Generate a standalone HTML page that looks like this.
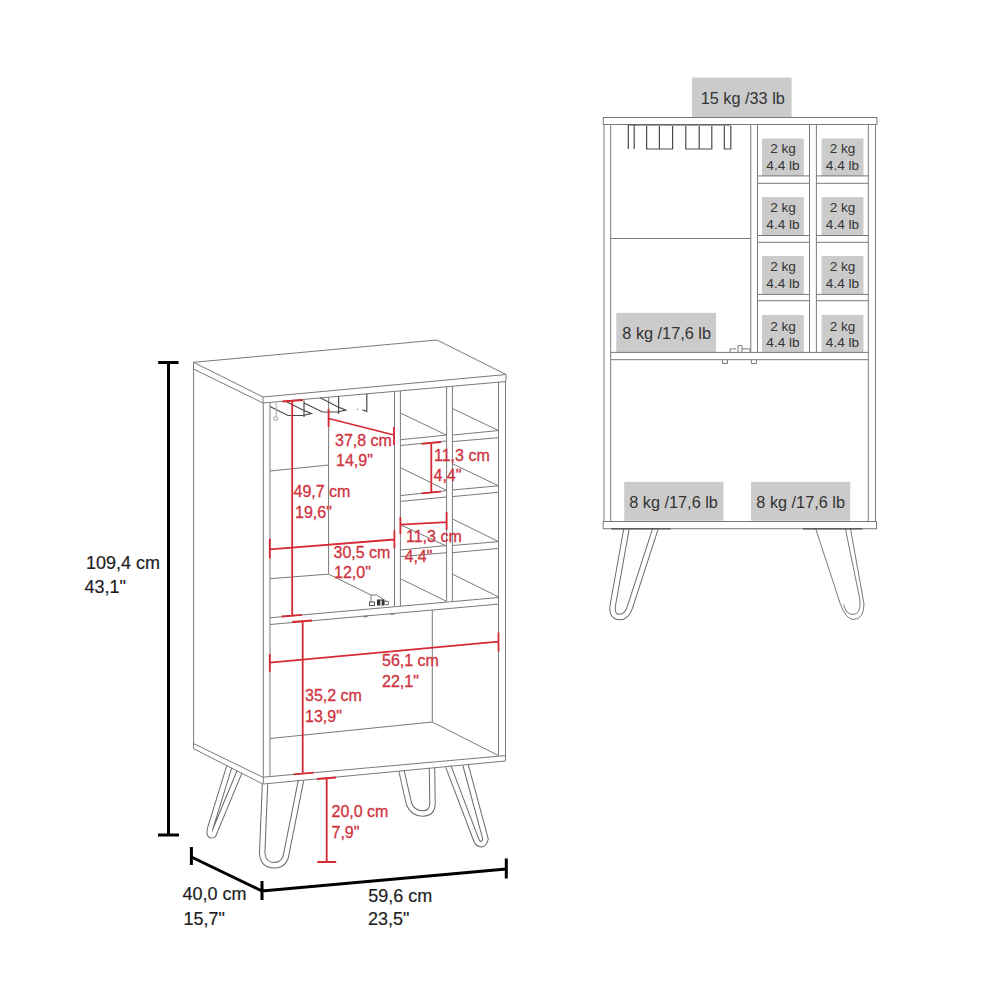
<!DOCTYPE html>
<html><head><meta charset="utf-8"><style>
html,body{margin:0;padding:0;background:#fff;width:1000px;height:1000px;overflow:hidden}
svg{display:block}
text{font-family:"Liberation Sans",sans-serif}
.g{stroke:#7a7a7a;stroke-width:1;fill:none}
.gd{stroke:#4a4a4a;stroke-width:1.2;fill:none}
.r{stroke:#d62a35;stroke-width:1.8;fill:none}
.b{stroke:#000;stroke-width:3;fill:none}
.rt{fill:#d0323e;font-size:16px;stroke:#d0323e;stroke-width:0.3}
.bt{fill:#1e1e1e;font-size:18px;stroke:#1e1e1e;stroke-width:0.2}
.lt{fill:#333;font-size:16.3px}
.st{fill:#333;font-size:13.6px}
.box{fill:#cbcbcb}
.tube{stroke:#6a6a6a;stroke-width:6.4;fill:none;stroke-linecap:butt}
.tubew{stroke:#fff;stroke-width:4.4;fill:none;stroke-linecap:butt}
</style></head><body>
<svg width="1000" height="1000" viewBox="0 0 1000 1000">
<!-- legs left -->
<g>
 <path class="tube" d="M265 784 L262.2 853 Q263 865.2 274.2 865.2 Q285 865.2 286.5 853 L301 780.4"/>
 <path class="tubew" d="M265 784 L262.2 853 Q263 865.2 274.2 865.2 Q285 865.2 286.5 853 L301 780.4"/>
 <path class="tube" d="M229.2 766.9 L210 829 Q208.5 837.5 213.5 834.5 L239.4 772.1"/>
 <path class="tubew" d="M229.2 766.9 L210 829 Q208.5 837.5 213.5 834.5 L239.4 772.1"/>
 <path class="tube" d="M401.5 770.9 L409 804 Q413 813.5 422.5 813.5 Q432 813.5 432.5 804 L432 768"/>
 <path class="tubew" d="M401.5 770.9 L409 804 Q413 813.5 422.5 813.5 Q432 813.5 432.5 804 L432 768"/>
 <path class="tube" d="M448.3 766.4 L475.5 838 C477.5 845 483.5 847 485.5 839 L465.5 764.8"/>
 <path class="tubew" d="M448.3 766.4 L475.5 838 C477.5 845 483.5 847 485.5 839 L465.5 764.8"/>
</g>
<!-- ============ LEFT CABINET ============ -->
<g class="g">
 <!-- top -->
 <path d="M193.5 362.3 L437 340 L506 374.5 L263 397 Z"/>
 <path d="M193.5 362.3 V369 L263 403 L506 381.5 V374.5 M263 397 V403"/>
 <!-- sides -->
 <path d="M193.6 369 V748.7 L262.8 784 M193.6 743.6 L262.8 777.2"/>
 <path d="M263.3 403 V784 L505.5 761 V381.5"/>
 <path d="M270 403 V776.6 M498.5 382 V755.6 M263 777.2 L505.5 755.6"/>
 <!-- dividers -->
 <path d="M394.5 391.4 V606 M400.4 391 V606"/>
 <path d="M446.6 386.7 V601 M452.4 386.2 V601"/>
 <!-- glass section -->
 <path d="M328.6 397.2 V573.8"/>
 <path d="M270 471 L328.6 465"/>
 <path d="M270 578.7 L328.6 574.1 L371 595 H376.5 L386 601 M371 595 V602"/>
 <!-- middle shelf front -->
 <path d="M270 617.8 L498.5 597.5 M270 624.5 L498.5 604.1"/>
 <!-- wine shelves -->
 <path d="M400.4 413 L446.6 435.1 M452.4 408.5 L498.5 430.5"/>
 <path d="M400.4 439.7 L446.6 435.1 M452.4 435.1 L498.5 430.5 M400.4 445.5 L446.6 441 M452.4 441.6 L498.5 437.7"/>
 <path d="M400.4 467.6 L446.6 490.4 M452.4 463.7 L498.5 485.8"/>
 <path d="M400.4 495.6 L446.6 490.6 M452.4 490 L498.5 485.8 M400.4 501.4 L446.6 497 M452.4 496.6 L498.5 492.3"/>
 <path d="M400.4 524.7 L446.6 546.2 M452.4 518.9 L498.5 541.6"/>
 <path d="M400.4 550 L446.6 545.5 M452.4 545.5 L498.5 541.6 M400.4 556.6 L446.6 552.7 M452.4 552.7 L498.5 548.4"/>
 <path d="M400.4 578.7 L446.6 601.4 M452.4 574.1 L498.5 596.9"/>
 <!-- bottom compartment -->
 <path d="M432.3 610 V722 L498.5 755.6 M270 738.5 L432.3 722"/>
 <!-- hinge -->
</g>
<!-- glass holders -->
<g class="gd">
 <path d="M270 406.5 L288 415.5 H303 L311.3 413.6 L303 410 L286 401.5 M304 400.5 V417"/>
 <path d="M276.2 401.5 V416.5" stroke="#aaa" stroke-width="1"/>
 <circle cx="275.6" cy="418.6" r="1.9" stroke="#999" stroke-width="1" fill="none"/>
 <path d="M304.1 403 L322.5 412 H337.5 L345.8 410.1 L337.5 406.8 L320.3 397.8 M338.6 396.3 V413.9"/>
 <path d="M366.8 394 V411.3 L362.3 409.8"/>
 <circle cx="357.4" cy="409.4" r="0.6" fill="#666" stroke="none"/>
</g>
<g>
 <rect x="369.5" y="602" width="5" height="3.5" fill="none" stroke="#555" stroke-width="1"/>
 <rect x="377" y="599.5" width="7" height="6" fill="#333"/>
 <rect x="380.3" y="600.5" width="1.4" height="5" fill="#fff"/>
 <rect x="384.3" y="601.3" width="4" height="3.4" fill="none" stroke="#666" stroke-width="0.9"/>
</g>
<g fill="#777">
 <ellipse cx="365.5" cy="616.4" rx="2.2" ry="0.9"/>
 <ellipse cx="392.5" cy="613.9" rx="2.2" ry="0.9"/>
</g>
<!-- black dims -->
<g class="b">
 <path d="M168.5 362.4 V835 M158.2 362.4 H178.5 M158 835 H179"/>
 <path d="M191.4 857 L262 891 L506.3 869 M191.4 847 V865 M262 881 V900 M506.3 858.5 V878.5"/>
</g>
<!-- red dims -->
<g class="r">
 <path d="M292.2 401 V616 M282.5 401.5 L303 400 M281.5 616.5 L302 614.8"/>
 <path d="M328.6 418.5 L394 435 M328.6 409 V427 M394 427 V445"/>
 <path d="M431.3 443 V492.6 M421.5 443.8 L441 442 M421.5 493.4 L441 491.6"/>
 <path d="M400.4 524.7 L446.6 522.1 M400.4 517 V534 M446.6 512 V530"/>
 <path d="M269.8 549.3 L394.4 539.5 M269.8 538.8 V558.4 M394.4 530.4 V548.6"/>
 <path d="M269.8 662.6 L498.3 641.6 M269.8 654 V671.7 M498.5 632.5 V651.4"/>
 <path d="M302.7 621.3 V773.3 M292 622 L312 620.5 M293.4 774.4 L313.8 772.6"/>
 <path d="M326.7 778 V862 M317 779 L336 777.5 M317.3 862 H336.2"/>
</g>
<g class="rt">
 <text x="335" y="446">37,8 cm</text><text x="336" y="466">14,9"</text>
 <text x="293.5" y="497">49,7 cm</text><text x="295" y="518">19,6"</text>
 <text x="434" y="460.5">11,3 cm</text><text x="433.5" y="481.3">4,4"</text>
 <text x="406" y="541.6">11,3 cm</text><text x="404.5" y="561.8">4,4"</text>
 <text x="333.5" y="557.7">30,5 cm</text><text x="334" y="578">12,0"</text>
 <text x="382" y="666.1">56,1 cm</text><text x="382" y="687.1">22,1"</text>
 <text x="305" y="701.1">35,2 cm</text><text x="305" y="721.5">13,9"</text>
 <text x="331.5" y="816.5">20,0 cm</text><text x="331.5" y="837.5">7,9"</text>
</g>
<g class="bt">
 <text x="86" y="568.5">109,4 cm</text><text x="84.5" y="593">43,1"</text>
 <text x="182.5" y="900">40,0 cm</text><text x="183.5" y="924.8">15,7"</text>
 <text x="368.3" y="901.6">59,6 cm</text><text x="368" y="925.3">23,5"</text>
</g>

<!-- ============ RIGHT CABINET ============ -->
<g>
 <path class="tube" d="M626.5 528.7 L612.5 607 Q612 617 619.5 617 Q627 617 630 607 L655.4 528.7"/>
 <path class="tubew" d="M626.5 528.7 L612.5 607 Q612 617 619.5 617 Q627 617 630 607 L655.4 528.7"/>
 <path class="g" d="M815.7 528.7 L840 603 Q846 619.5 853 619.5 Q864 619.5 864 604 L850.5 528.7"/>
 <path class="g" d="M845.4 528.7 L860 600 Q861 614.5 853 614.5 Q846 614.5 843.7 604.5"/>
</g>
<g class="box">
 <rect x="692" y="77.6" width="99.6" height="39.5"/>
 <rect x="616.3" y="312.8" width="99.7" height="39.4"/>
 <rect x="624.2" y="481.8" width="99.2" height="38.9"/>
 <rect x="751" y="481.8" width="99.2" height="38.9"/>
 <rect x="762" y="138.5" width="41.8" height="37.6"/>
 <rect x="821.6" y="138.5" width="41.9" height="37.6"/>
 <rect x="762" y="197.1" width="41.8" height="38.2"/>
 <rect x="821.6" y="197.1" width="41.9" height="38.2"/>
 <rect x="762" y="256" width="41.8" height="38.2"/>
 <rect x="821.6" y="256" width="41.9" height="38.2"/>
 <rect x="762" y="315" width="41.8" height="37.3"/>
 <rect x="821.6" y="315" width="41.9" height="37.3"/>
</g>
<g class="g">
 <rect x="603.3" y="117.5" width="273.6" height="7"/>
 <path d="M604 124.5 V521.5 M610.7 124.5 V521.5 M868.3 124.5 V521.5 M875.5 124.5 V521.5"/>
 <path d="M750.8 124.5 V352.4 M757.5 124.5 V352.4 M809.5 124.5 V352.4 M816.4 124.5 V352.4"/>
 <path d="M757.5 175.9 H809.5 M816.4 175.9 H868.4 M757.5 183.3 H809.5 M816.4 183.3 H868.4"/>
 <path d="M757.5 235.5 H809.5 M816.4 235.5 H868.4 M757.5 242.3 H809.5 M816.4 242.3 H868.4"/>
 <path d="M757.5 294.4 H809.5 M816.4 294.4 H868.4 M757.5 300.7 H809.5 M816.4 300.7 H868.4"/>
 <path d="M610.7 238.5 H750.8"/>
 <path d="M610.7 352.4 H868.4 M610.7 359.7 H868.4"/>
 <rect x="603.2" y="521.5" width="273.3" height="7.2"/>
 <path d="M722.5 359.7 v3.8 h5 v-3.8 M751.4 359.7 v3.8 h5 v-3.8"/>
 <path d="M730 352.4 v-3.5 h6 M738 352.4 v-6.8 h4 v6.8 M742 348.9 h8 v3.5"/>
</g>
<g class="gd">
 <path d="M628.3 125 H731"/>
 <path d="M628.3 125 V149 M634.2 125 V149"/>
 <path d="M646.6 126 V149 H672.6 V126 M659.4 126 V149"/>
 <path d="M685.8 126 V149 H711.8 V126 M699.2 126 V149"/>
 <path d="M724.3 126 V149 H730.8 V126"/>
 <path d="M611.2 528.9 H670.7 M802.9 528.9 H862.4"/>
</g>
<g class="lt">
 <text x="700.7" y="103.7">15 kg /33 lb</text>
 <text x="622.3" y="338.8">8 kg /17,6 lb</text>
 <text x="629.2" y="507.6">8 kg /17,6 lb</text>
 <text x="756.3" y="507.6">8 kg /17,6 lb</text>
</g>
<g class="st" text-anchor="middle">
 <text x="783" y="153.2">2 kg</text><text x="783" y="170">4.4 lb</text>
 <text x="842.5" y="153.2">2 kg</text><text x="842.5" y="170">4.4 lb</text>
 <text x="783" y="212">2 kg</text><text x="783" y="228.8">4.4 lb</text>
 <text x="842.5" y="212">2 kg</text><text x="842.5" y="228.8">4.4 lb</text>
 <text x="783" y="271">2 kg</text><text x="783" y="287.8">4.4 lb</text>
 <text x="842.5" y="271">2 kg</text><text x="842.5" y="287.8">4.4 lb</text>
 <text x="783" y="330.5">2 kg</text><text x="783" y="347.4">4.4 lb</text>
 <text x="842.5" y="330.5">2 kg</text><text x="842.5" y="347.4">4.4 lb</text>
</g>
</svg>
</body></html>
